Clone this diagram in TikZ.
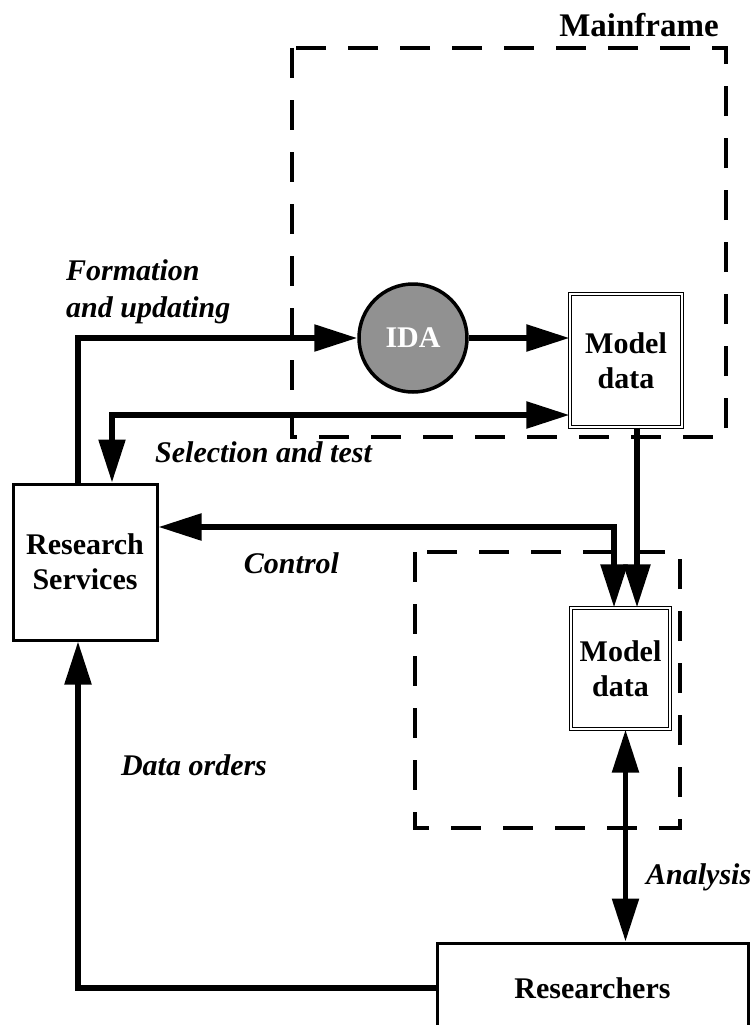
\documentclass[tikz,border=0pt]{standalone}
\usepackage{fontspec}
\setmainfont{Liberation Serif}
\usetikzlibrary{arrows.meta,calc}
\definecolor{idagray}{HTML}{919191}
\tikzset{
  boxtxt/.style={font=\fontsize{30}{35}\selectfont\bfseries, align=center, inner sep=0pt},
  lbl/.style={font=\fontsize{30}{37}\selectfont\bfseries\itshape, inner sep=0pt},
  plainbox/.style={boxtxt, draw, line width=3pt, rectangle},
  storebox/.style={boxtxt, draw, double, line width=1.2pt, double distance=2.2pt, rectangle},
  zone/.style={draw, line width=3.5pt, dash pattern=on 30pt off 22pt},
  flow/.style={line width=5.5pt, >={Triangle[length=43pt,width=26pt]}},
}
\begin{document}
\begin{tikzpicture}[x=1pt, y=-1pt]
  \useasboundingbox (0,0) rectangle (754,1025);
  \clip (0,0) rectangle (754,1025);

  % dashed regions
  \draw[zone] (292,48) rectangle (726,437);
  \draw[zone] (415,552) rectangle (680,828);
  \node[boxtxt, font=\fontsize{33}{38}\selectfont\bfseries] (mainframe) at (639,25) {Mainframe};

  % nodes
  \node[plainbox, minimum width=144pt, minimum height=156pt] (rs) at (85,562) {Research\\Services};
  \node[circle, draw, line width=3.5pt, fill=idagray, minimum size=108pt,
        boxtxt, text=white] (ida) at (413,338) {IDA};
  \node[storebox, minimum width=112pt, minimum height=133pt] (md1) at (626,360.5) {Model\\data};
  \node[storebox, minimum width=99pt, minimum height=121pt] (md2) at (620.5,668.5) {Model\\data};
  \node[plainbox, minimum width=311pt, minimum height=90pt] (res) at (592.5,988) {Researchers};

  % connectors
  \draw[flow, ->] ([xshift=-7pt]rs.north) |- (ida.west);
  \draw[flow, ->] (ida.east) -- (md1.west |- ida.east);
  \draw[flow, <->] ([xshift=27pt]rs.north) |- ([yshift=-54.5pt]md1.west);
  \draw[flow, <->] ([yshift=35pt]rs.east) -| ([xshift=-6.5pt]md2.north);
  \draw[flow, ->] ([xshift=11pt]md1.south) -- ([xshift=16.5pt]md2.north);
  \draw[flow, <->] ([xshift=5pt]md2.south) -- ([xshift=5pt]md2.south |- res.north);
  \draw[flow, ->] (res.west) -| ([xshift=-7pt]rs.south);

  % labels
  \node[lbl, align=left, anchor=west] (lform) at (66,292) {Formation\\and updating};
  \node[lbl] (lsel) at (263.5,452) {Selection and test};
  \node[lbl] (lctl) at (291.5,563) {Control};
  \node[lbl] (lord) at (194,765) {Data orders};
  \node[lbl, anchor=west] (lana) at (646,877) {Analysis};
\end{tikzpicture}
\end{document}
